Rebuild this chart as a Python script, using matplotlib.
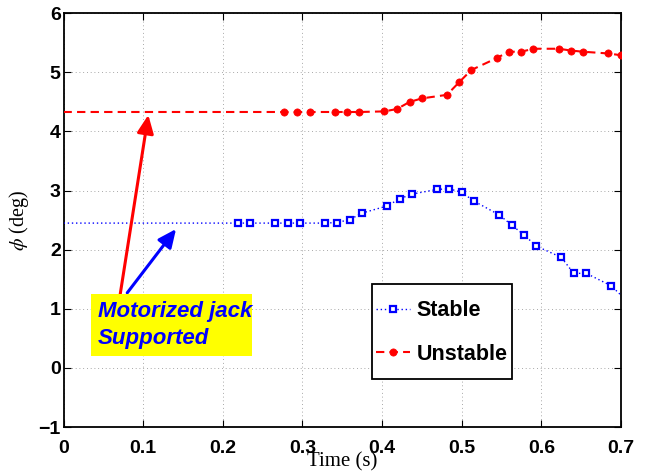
import matplotlib
matplotlib.use("Agg")
import matplotlib.pyplot as plt
from matplotlib.patches import Rectangle
from matplotlib.legend_handler import HandlerLine2D

plt.rcParams['font.family'] = ['Liberation Sans', 'DejaVu Sans']
plt.rcParams['mathtext.fontset'] = 'stix'

# ---- data ----
t_stable = [0.2188, 0.2344, 0.2656, 0.2813, 0.2969, 0.3281, 0.3438, 0.3594,
            0.3750, 0.4063, 0.4219, 0.4375, 0.4688, 0.4844, 0.5000, 0.5156,
            0.5469, 0.5625, 0.5781, 0.5938, 0.6250, 0.6406, 0.6563, 0.6875]
phi_stable = [2.45, 2.45, 2.45, 2.45, 2.45, 2.45, 2.46, 2.51,
              2.62, 2.74, 2.86, 2.94, 3.02, 3.03, 2.97, 2.82,
              2.59, 2.42, 2.25, 2.06, 1.87, 1.60, 1.60, 1.39]
# line extends to both axis edges
t_stable_line = [0.0] + t_stable + [0.7]
phi_stable_line = [2.45] + phi_stable + [1.23]

t_unstable = [0.2772, 0.2933, 0.3093, 0.3410, 0.3560, 0.3716, 0.4026, 0.4186,
              0.4345, 0.4500, 0.4814, 0.4965, 0.5120, 0.5437, 0.5588, 0.5748,
              0.5900, 0.6216, 0.6370, 0.6520, 0.6840, 0.7000]
phi_unstable = [4.33, 4.33, 4.33, 4.33, 4.33, 4.33, 4.34, 4.38,
                4.50, 4.56, 4.62, 4.83, 5.04, 5.24, 5.35, 5.35,
                5.40, 5.40, 5.37, 5.35, 5.32, 5.29]
t_unstable_line = [0.0] + t_unstable
phi_unstable_line = [4.33] + phi_unstable

x_ticks = [0, 0.1, 0.2, 0.3, 0.4, 0.5, 0.6, 0.7]
x_ticklabels = ['0', '0.1', '0.2', '0.3', '0.4', '0.5', '0.6', '0.7']
y_ticks = [-1, 0, 1, 2, 3, 4, 5, 6]
y_ticklabels = ['\u22121', '0', '1', '2', '3', '4', '5', '6']

labels = ['Stable', 'Unstable']
annot_lines = ['Motorized jack', 'Supported']
arrow_red = ((0.1065, 4.28), (0.071, 1.23))   # (head, tail)
arrow_blue = ((0.1413, 2.35), (0.080, 1.27))


class CenteredHandler(HandlerLine2D):
    """Line handler lowered so it sits at the text's mid-height."""
    def create_artists(self, legend, orig_handle, xdescent, ydescent,
                       width, height, fontsize, trans):
        return super().create_artists(legend, orig_handle, xdescent,
                                      ydescent + 0.6 * fontsize, width,
                                      height, fontsize, trans)


# ---- figure ----
fig = plt.figure(figsize=(6.52, 4.71), dpi=100)
ax = fig.add_axes([0.0974, 0.0934, 0.8551, 0.8784])

ax.plot(t_stable_line, phi_stable_line, color='blue', lw=1.0,
        linestyle=(0, (1, 2)), zorder=3)
ax.plot(t_stable, phi_stable, linestyle='none', marker='s', ms=4.3,
        mfc='white', mec='blue', mew=1.6, zorder=4)
ax.plot(t_unstable_line, phi_unstable_line, color='red', lw=1.5,
        linestyle=(0, (4, 2.5)), zorder=3)
ax.plot(t_unstable, phi_unstable, linestyle='none', marker='o', ms=5.2,
        mfc='red', mec='red', mew=0.5, zorder=4)

# legend proxies
h1, = ax.plot([], [], color='blue', lw=1.0, linestyle=(0, (1, 2)),
              marker='s', ms=4.3, mfc='white', mec='blue', mew=1.6)
h2, = ax.plot([], [], color='red', lw=1.5, linestyle=(0, (4, 2.5)),
              marker='o', ms=5.2, mfc='red', mec='red', mew=0.5)

ax.set_xlim(0, 0.7)
ax.set_ylim(-1, 6)
ax.set_xticks(x_ticks)
ax.set_xticklabels(x_ticklabels)
ax.set_yticks(y_ticks)
ax.set_yticklabels(y_ticklabels)
for lab in ax.get_xticklabels() + ax.get_yticklabels():
    lab.set_fontweight('bold')
    lab.set_fontsize(14)
ax.tick_params(axis='both', direction='in', length=5, width=0.8,
               top=True, right=True)
ax.tick_params(axis='x', pad=9)
ax.tick_params(axis='y', pad=2)
for s in ax.spines.values():
    s.set_linewidth(1.3)

ax.grid(True, color='#8a8a8a', lw=0.6, linestyle=(0, (1, 3.5)))
ax.set_axisbelow(True)

ax.set_xlabel('Time (s)', family=['Liberation Serif', 'DejaVu Serif'],
              fontsize=15, va='center')
ax.xaxis.set_label_coords(0.5, -0.085)
ax.set_ylabel(r'$\phi$ (deg)', family=['Liberation Serif', 'DejaVu Serif'],
              fontsize=14.5, va='center')
ax.yaxis.set_label_coords(-0.08, 0.5)

# arrows
for (head, tail), col in [(arrow_red, 'red'), (arrow_blue, 'blue')]:
    ax.annotate('', xy=head, xytext=tail,
                arrowprops=dict(arrowstyle='-|>,head_length=0.55,head_width=0.25',
                                color=col, lw=2.2, mutation_scale=20,
                                shrinkA=0, shrinkB=0), zorder=5)

# yellow annotation box
ax.add_patch(Rectangle((0.0493, 0.1716), 0.2883, 0.1492, transform=ax.transAxes,
                       facecolor='yellow', edgecolor='none', zorder=6))
ax.text(0.0613, 0.2666, annot_lines[0], transform=ax.transAxes, color='blue',
        fontsize=16, fontweight='bold', fontstyle='italic', va='baseline',
        ha='left', zorder=7)
ax.text(0.0613, 0.2006, annot_lines[1], transform=ax.transAxes, color='blue',
        fontsize=16, fontweight='bold', fontstyle='italic', va='baseline',
        ha='left', zorder=7)

leg = ax.legend([h1, h2], labels, loc='upper left',
                bbox_to_anchor=(0.554, 0.345), borderaxespad=0,
                prop={'weight': 'bold', 'size': 15.5}, numpoints=1,
                fancybox=False, framealpha=1, edgecolor='black',
                handlelength=1.6, handleheight=2.74, handletextpad=0.3,
                labelspacing=0.0, borderpad=0.17,
                handler_map={h1: CenteredHandler(), h2: CenteredHandler()})
leg.get_frame().set_linewidth(1.3)
leg.set_zorder(8)

fig.savefig('out.png', dpi=100, facecolor='white')
